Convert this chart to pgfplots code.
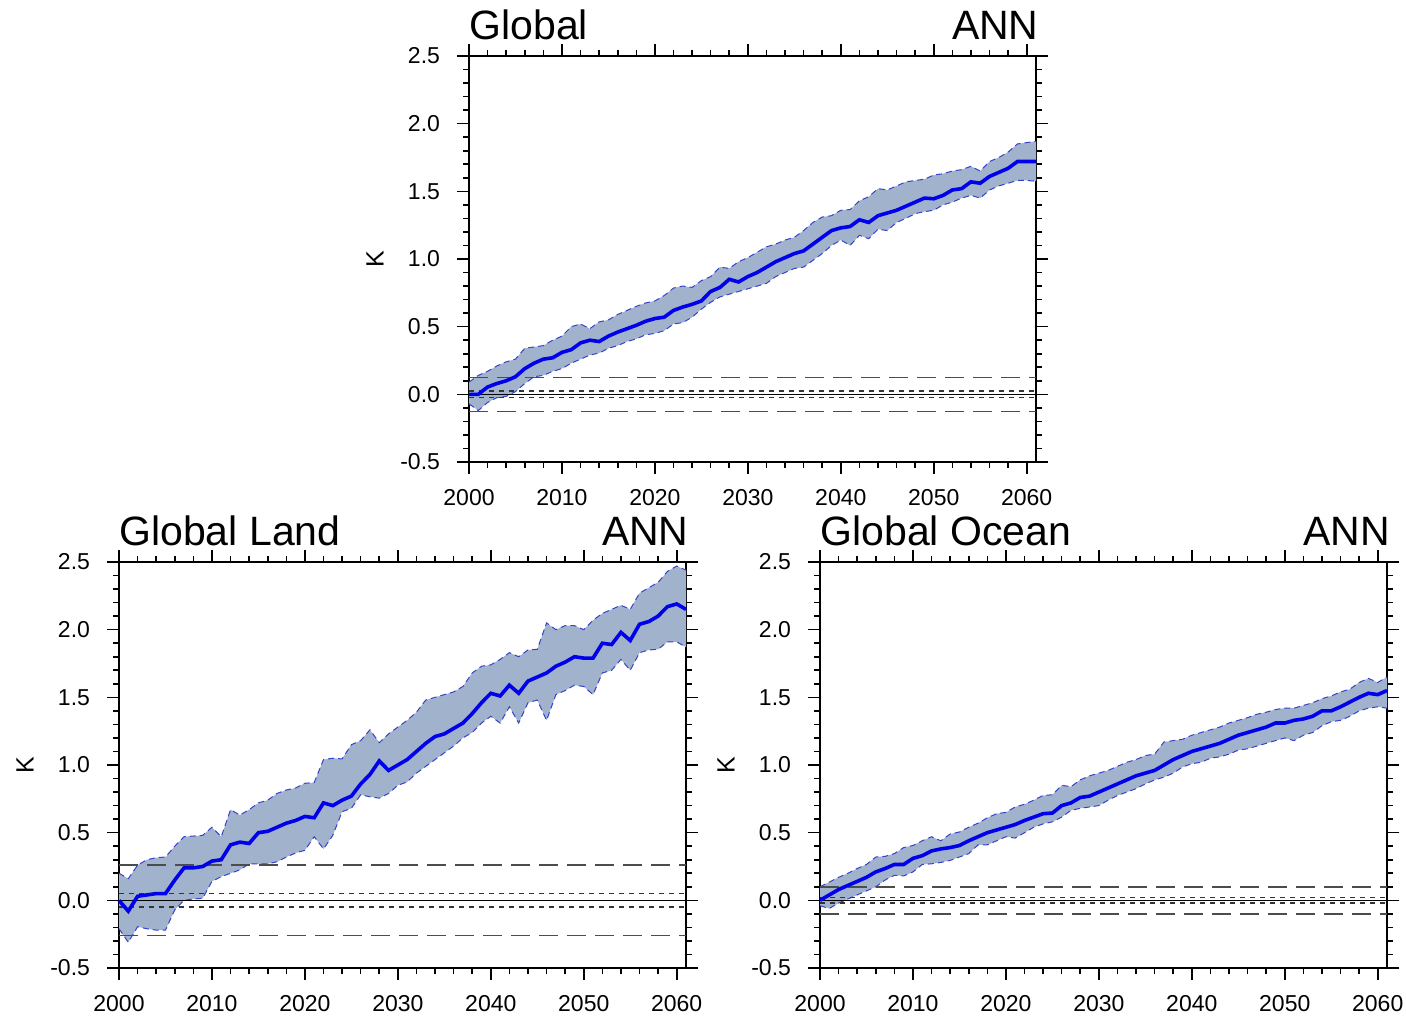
\documentclass[border=0pt]{standalone}
\usepackage{fontspec}
\setmainfont{Liberation Sans}
\usepackage{pgfplots}
\usepackage{pgfplotstable}
\pgfplotsset{compat=1.18}
\usepgfplotslibrary{fillbetween}

\definecolor{bandfill}{RGB}{161,178,204}
\definecolor{bandedge}{RGB}{55,65,205}
\definecolor{meanline}{RGB}{0,0,235}
\definecolor{refgray}{gray}{0.3}

% year, ensemble mean, lower and upper edge of the spread (K)
\pgfplotstableread{
yr   mn     lo     hi
2000 0.00  -0.07   0.09
2001 0.00  -0.12   0.14
2002 0.054 -0.06   0.17
2003 0.08  -0.025  0.21
2004 0.10  -0.015  0.24
2005 0.13   0.02   0.26
2006 0.19   0.08   0.34
2007 0.23   0.13   0.35
2008 0.26   0.14   0.36
2009 0.27   0.17   0.40
2010 0.31   0.19   0.43
2011 0.33   0.23   0.50
2012 0.38   0.26   0.52
2013 0.40   0.29   0.485
2014 0.39   0.305  0.535
2015 0.43   0.34   0.55
2016 0.46   0.36   0.59
2017 0.485  0.39   0.62
2018 0.51   0.41   0.65
2019 0.54   0.44   0.675
2020 0.56   0.45   0.69
2021 0.57   0.47   0.73
2022 0.62   0.52   0.785
2023 0.645  0.53   0.80
2024 0.665  0.57   0.79
2025 0.69   0.63   0.84
2026 0.76   0.68   0.87
2027 0.79   0.72   0.94
2028 0.85   0.74   0.93
2029 0.83   0.76   0.98
2030 0.87   0.78   1.01
2031 0.90   0.80   1.05
2032 0.94   0.82   1.09
2033 0.98   0.87   1.11
2034 1.01   0.90   1.14
2035 1.04   0.93   1.16
2036 1.06   0.94   1.21
2037 1.11   0.99   1.27
2038 1.16   1.04   1.31
2039 1.21   1.10   1.32
2040 1.23   1.14   1.36
2041 1.24   1.10   1.365
2042 1.29   1.175  1.43
2043 1.27   1.15   1.46
2044 1.32   1.22   1.52
2045 1.34   1.21   1.51
2046 1.36   1.27   1.54
2047 1.39   1.30   1.57
2048 1.42   1.335  1.58
2049 1.45   1.35   1.59
2050 1.445  1.36   1.62
2051 1.47   1.40   1.63
2052 1.51   1.42   1.65
2053 1.52   1.45   1.66
2054 1.57   1.47   1.685
2055 1.56   1.45   1.65
2056 1.61   1.51   1.72
2057 1.64   1.54   1.75
2058 1.67   1.56   1.79
2059 1.72   1.58   1.85
2060 1.72   1.58   1.86
2061 1.72   1.575  1.87
}\glob

\pgfplotstableread{
yr   mn     lo     hi
2000 0.00  -0.21   0.20
2001 -0.08 -0.31   0.16
2002 0.03  -0.195  0.26
2003 0.04  -0.21   0.30
2004 0.05  -0.22   0.315
2005 0.05  -0.22   0.32
2006 0.15  -0.07   0.40
2007 0.24   0.00   0.47
2008 0.24   0.01   0.475
2009 0.25   0.015  0.48
2010 0.29   0.14   0.54
2011 0.30   0.175  0.47
2012 0.41   0.20   0.67
2013 0.43   0.225  0.63
2014 0.42   0.27   0.67
2015 0.50   0.27   0.72
2016 0.51   0.27   0.74
2017 0.54   0.285  0.79
2018 0.57   0.32   0.815
2019 0.59   0.35   0.83
2020 0.62   0.37   0.865
2021 0.61   0.47   0.87
2022 0.72   0.38   1.04
2023 0.70   0.48   1.05
2024 0.74   0.655  1.045
2025 0.77   0.68   1.15
2026 0.86   0.78   1.18
2027 0.93   0.765  1.26
2028 1.03   0.755  1.165
2029 0.96   0.79   1.23
2030 1.00   0.85   1.28
2031 1.04   0.875  1.33
2032 1.10   0.94   1.39
2033 1.16   0.99   1.48
2034 1.21   1.04   1.50
2035 1.23   1.09   1.52
2036 1.27   1.14   1.54
2037 1.31   1.20   1.58
2038 1.38   1.24   1.68
2039 1.46   1.31   1.73
2040 1.53   1.36   1.74
2041 1.51   1.31   1.78
2042 1.59   1.43   1.83
2043 1.53   1.31   1.80
2044 1.62   1.46   1.85
2045 1.65   1.48   1.855
2046 1.68   1.33   2.05
2047 1.73   1.52   2.00
2048 1.76   1.55   2.03
2049 1.80   1.59   2.03
2050 1.79   1.58   2.00
2051 1.79   1.52   2.07
2052 1.90   1.68   2.12
2053 1.89   1.70   2.15
2054 1.98   1.78   2.18
2055 1.92   1.70   2.15
2056 2.04   1.83   2.27
2057 2.06   1.85   2.31
2058 2.10   1.855  2.35
2059 2.17   1.91   2.43
2060 2.19   1.91   2.47
2061 2.15   1.87   2.44
}\land

\pgfplotstableread{
yr   mn     lo     hi
2000 0.00  -0.04   0.10
2001 0.04  -0.06   0.135
2002 0.08  -0.02   0.17
2003 0.11   0.01   0.20
2004 0.14   0.04   0.235
2005 0.17   0.07   0.265
2006 0.21   0.10   0.32
2007 0.235  0.15   0.325
2008 0.265  0.185  0.345
2009 0.265  0.18   0.39
2010 0.31   0.21   0.405
2011 0.33   0.265  0.44
2012 0.365  0.27   0.47
2013 0.38   0.28   0.44
2014 0.39   0.295  0.49
2015 0.405  0.32   0.505
2016 0.44   0.345  0.54
2017 0.47   0.41   0.57
2018 0.50   0.41   0.61
2019 0.52   0.44   0.64
2020 0.54   0.47   0.65
2021 0.56   0.46   0.69
2022 0.59   0.50   0.71
2023 0.615  0.54   0.74
2024 0.64   0.565  0.775
2025 0.645  0.58   0.78
2026 0.70   0.615  0.85
2027 0.72   0.665  0.84
2028 0.76   0.68   0.89
2029 0.77   0.69   0.92
2030 0.80   0.70   0.94
2031 0.83   0.74   0.96
2032 0.86   0.775  0.99
2033 0.89   0.80   1.02
2034 0.92   0.825  1.04
2035 0.94   0.86   1.07
2036 0.96   0.89   1.08
2037 1.00   0.91   1.17
2038 1.04   0.94   1.18
2039 1.07   0.985  1.19
2040 1.10   1.01   1.22
2041 1.12   1.02   1.24
2042 1.14   1.05   1.26
2043 1.16   1.06   1.28
2044 1.19   1.08   1.31
2045 1.22   1.11   1.33
2046 1.24   1.12   1.35
2047 1.26   1.14   1.375
2048 1.28   1.16   1.39
2049 1.31   1.18   1.41
2050 1.31   1.20   1.42
2051 1.33   1.18   1.42
2052 1.34   1.22   1.44
2053 1.36   1.24   1.46
2054 1.40   1.29   1.49
2055 1.40   1.32   1.51
2056 1.43   1.33   1.54
2057 1.465  1.36   1.56
2058 1.50   1.40   1.61
2059 1.53   1.42   1.64
2060 1.52   1.43   1.61
2061 1.55   1.42   1.65
}\ocean

\pgfplotsset{
  ncl/.style={
    scale only axis, width=283.5pt, height=203pt, anchor=south west,
    xmin=2000, xmax=2061, ymin=-0.5, ymax=2.5,
    xtick={2000,2010,...,2060}, ytick={-0.5,0,...,2.5},
    minor x tick num=4, minor y tick num=4,
    tick align=outside, major tick length=6pt, minor tick length=3pt,
    every tick/.style={black, line width=0.8pt},
    axis line style={black, line width=1.1pt},
    clip=false,
    /pgf/number format/assume math mode=true,
    tick label style={font=\fontsize{11.5}{13}\selectfont},
    xticklabel style={yshift=-4pt, /pgf/number format/.cd, set thousands separator={}},
    yticklabel style={xshift=-5pt, /pgf/number format/.cd, fixed, fixed zerofill, precision=1},
    ylabel={K},
    every axis y label/.style={at={(ticklabel cs:0.5)}, rotate=90, anchor=south,
      yshift=1.5pt, font=\fontsize{12.5}{15}\selectfont},
  },
  refline/.style={line width=0.7pt},
}

\newcommand{\panel}[5]{% table, lead text, long dash level, short dash level, name
  \addplot[name path=#5hi, bandedge, line width=0.5pt, dash pattern=on 3pt off 2pt] table[x=yr, y=hi] {#1};
  \addplot[name path=#5lo, bandedge, line width=0.5pt, dash pattern=on 3pt off 2pt] table[x=yr, y=lo] {#1};
  \addplot[bandfill, draw=none] fill between[of=#5hi and #5lo];
  \addplot[refline, black] coordinates {(2000,0) (2061,0)};
  \addplot[refline, refgray, dash pattern=on 9.5pt off 4.5pt] coordinates {(2000,#3) (2061,#3)};
  \addplot[refline, refgray, dash pattern=on 9.5pt off 4.5pt] coordinates {(2000,-#3) (2061,-#3)};
  \addplot[refline, black!80, dash pattern=on 2.5pt off 2.5pt] coordinates {(2000,#4) (2061,#4)};
  \addplot[refline, black!80, dash pattern=on 2.5pt off 2.5pt] coordinates {(2000,-#4) (2061,-#4)};
  \addplot[meanline, line width=1.8pt] table[x=yr, y=mn] {#1};
  \node[anchor=base west, inner sep=0pt, font=\fontsize{20.5}{23}\selectfont] at (rel axis cs:0,1) [yshift=8pt] {#2};
  \node[anchor=base east, inner sep=0pt, font=\fontsize{20.5}{23}\selectfont] at (rel axis cs:1,1) [xshift=1.5pt, yshift=8pt] {ANN};
}

\begin{document}
\begin{tikzpicture}
\begin{axis}[ncl, at={(234.5pt,277.5pt)}]
\panel{\glob}{Global}{0.125}{0.025}{g}
\end{axis}

\begin{axis}[ncl, at={(59.5pt,24.5pt)}]
\panel{\land}{Global Land}{0.26}{0.05}{l}
\end{axis}

\begin{axis}[ncl, at={(410pt,24.5pt)}]
\panel{\ocean}{Global Ocean}{0.1}{0.02}{o}
\end{axis}

\pgfresetboundingbox
\path[use as bounding box] (0,0) rectangle (703pt,508.5pt);
\end{tikzpicture}
\end{document}
